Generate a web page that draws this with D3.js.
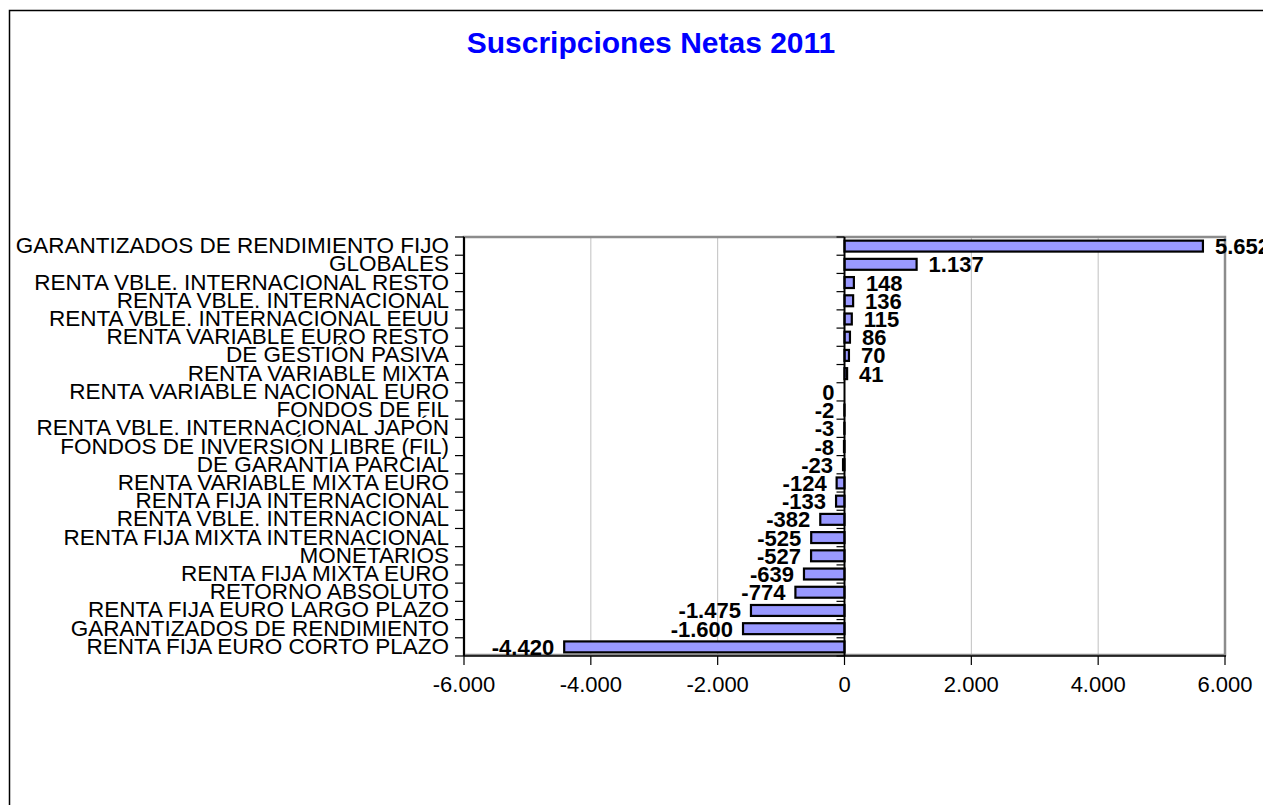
<!DOCTYPE html>
<html>
<head>
<meta charset="utf-8">
<script src="https://cdn.jsdelivr.net/npm/d3@7"></script>
<style>
  html, body { margin: 0; padding: 0; background: #fff; }
  svg { display: block; }
</style>
</head>
<body>
<svg id="chart" width="1263" height="805"></svg>
<script>
const title = "Suscripciones Netas 2011";
const categories = [
  "GARANTIZADOS DE RENDIMIENTO FIJO",
  "GLOBALES",
  "RENTA VBLE. INTERNACIONAL RESTO",
  "RENTA VBLE. INTERNACIONAL",
  "RENTA VBLE. INTERNACIONAL EEUU",
  "RENTA VARIABLE EURO RESTO",
  "DE GESTIÓN PASIVA",
  "RENTA VARIABLE MIXTA",
  "RENTA VARIABLE NACIONAL EURO",
  "FONDOS DE FIL",
  "RENTA VBLE. INTERNACIONAL JAPÓN",
  "FONDOS DE INVERSIÓN LIBRE (FIL)",
  "DE GARANTÍA PARCIAL",
  "RENTA VARIABLE MIXTA EURO",
  "RENTA FIJA INTERNACIONAL",
  "RENTA VBLE. INTERNACIONAL",
  "RENTA FIJA MIXTA INTERNACIONAL",
  "MONETARIOS",
  "RENTA FIJA MIXTA EURO",
  "RETORNO ABSOLUTO",
  "RENTA FIJA EURO LARGO PLAZO",
  "GARANTIZADOS DE RENDIMIENTO",
  "RENTA FIJA EURO CORTO PLAZO"
];
const values = [5652, 1137, 148, 136, 115, 86, 70, 41, 0, -2, -3, -8, -23, -124, -133, -382, -525, -527, -639, -774, -1475, -1600, -4420];
const xTicks = [-6000, -4000, -2000, 0, 2000, 4000, 6000];

const svg = d3.select("#chart");
const W = 1263, H = 805;
const plot = { left: 464, right: 1225, top: 237, bottom: 656 };

const loc = d3.formatLocale({ decimal: ",", thousands: ".", grouping: [3], currency: ["", "€"], minus: "-" });
const fmt = loc.format(",d");

const x = d3.scaleLinear().domain([-6000, 6000]).range([plot.left, plot.right]);
const idx = d3.range(categories.length);
const y = d3.scaleBand().domain(idx).range([plot.top, plot.bottom]).paddingInner(0.4).paddingOuter(0.2);
const yStep = d3.scaleBand().domain(idx).range([plot.top, plot.bottom]).padding(0);

// outer border
svg.append("rect").attr("x", 9.5).attr("y", 10.5).attr("width", W + 20).attr("height", H + 20)
  .attr("fill", "none").attr("stroke", "#000").attr("stroke-width", 1.5);

// title
svg.append("text").attr("x", 651).attr("y", 53).attr("text-anchor", "middle")
  .attr("font-family", "Liberation Sans, Arial, sans-serif").attr("font-weight", "bold")
  .attr("font-size", 30).attr("fill", "#0000ff").text(title);

// gridlines
svg.append("g").selectAll("line").data(xTicks.filter(t => t !== 0 && Math.abs(t) !== 6000)).join("line")
  .attr("x1", d => x(d)).attr("x2", d => x(d)).attr("y1", plot.top).attr("y2", plot.bottom)
  .attr("stroke", "#c0c0c0").attr("stroke-width", 1);

// plot frame (gray)
svg.append("rect").attr("x", plot.left).attr("y", plot.top)
  .attr("width", plot.right - plot.left).attr("height", plot.bottom - plot.top - 1)
  .attr("fill", "none").attr("stroke", "#8c8c8c").attr("stroke-width", 2.5);

// bars
svg.append("g").selectAll("rect").data(values).join("rect")
  .attr("x", d => x(Math.min(0, d)))
  .attr("width", d => Math.abs(x(d) - x(0)))
  .attr("y", (d, i) => y(i))
  .attr("height", y.bandwidth())
  .attr("fill", "#9999ff").attr("stroke", "#000").attr("stroke-width", 2.2);

// zero axis line with ticks
const zeroG = svg.append("g");
zeroG.append("line").attr("x1", x(0)).attr("x2", x(0)).attr("y1", plot.top).attr("y2", plot.bottom)
  .attr("stroke", "#000").attr("stroke-width", 2);
zeroG.selectAll("line.t").data(idx.concat([categories.length])).join("line").attr("class", "t")
  .attr("x1", x(0) - 8).attr("x2", x(0))
  .attr("y1", d => d < categories.length ? yStep(d) : plot.bottom)
  .attr("y2", d => d < categories.length ? yStep(d) : plot.bottom)
  .attr("stroke", "#000").attr("stroke-width", 1.2);

// left axis
const leftG = svg.append("g");
leftG.append("line").attr("x1", plot.left).attr("x2", plot.left).attr("y1", plot.top).attr("y2", plot.bottom)
  .attr("stroke", "#000").attr("stroke-width", 2);
leftG.selectAll("line.t").data(idx.concat([categories.length])).join("line").attr("class", "t")
  .attr("x1", plot.left - 9).attr("x2", plot.left)
  .attr("y1", d => d < categories.length ? yStep(d) : plot.bottom)
  .attr("y2", d => d < categories.length ? yStep(d) : plot.bottom)
  .attr("stroke", "#000").attr("stroke-width", 1.2);
leftG.selectAll("text").data(categories).join("text")
  .attr("x", 449).attr("y", (d, i) => yStep(i) + yStep.bandwidth() / 2 + 7)
  .attr("text-anchor", "end")
  .attr("font-family", "Liberation Sans, Arial, sans-serif").attr("font-size", 22.5)
  .attr("fill", "#000").text(d => d);

// bottom axis
const bottomG = svg.append("g");
bottomG.append("line").attr("x1", plot.left).attr("x2", plot.right + 1).attr("y1", plot.bottom).attr("y2", plot.bottom)
  .attr("stroke", "#000").attr("stroke-width", 1.5);
bottomG.selectAll("line.t").data(xTicks).join("line").attr("class", "t")
  .attr("x1", d => x(d)).attr("x2", d => x(d)).attr("y1", plot.bottom).attr("y2", plot.bottom + 9)
  .attr("stroke", "#000").attr("stroke-width", 1.2);
bottomG.selectAll("text").data(xTicks).join("text")
  .attr("x", d => x(d)).attr("y", 692).attr("text-anchor", "middle")
  .attr("font-family", "Liberation Sans, Arial, sans-serif").attr("font-size", 22)
  .attr("fill", "#000").text(d => fmt(d));

// value labels
svg.append("g").selectAll("text").data(values).join("text")
  .attr("x", d => d > 0 ? x(d) + 12 : x(d) - 10)
  .attr("y", (d, i) => y(i) + y.bandwidth() / 2 + 8)
  .attr("text-anchor", d => d > 0 ? "start" : "end")
  .attr("font-family", "Liberation Sans, Arial, sans-serif").attr("font-weight", "bold")
  .attr("font-size", 22).attr("fill", "#000").text(d => fmt(d));
</script>
</body>
</html>
